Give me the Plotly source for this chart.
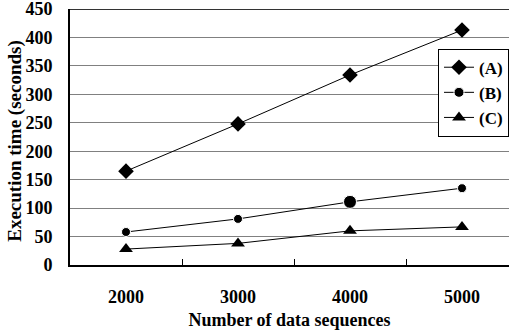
import plotly.graph_objects as go

categories = ["2000", "3000", "4000", "5000"]
series_a = [165, 248, 334, 413]
series_b = [58, 81, 111, 135]
series_c = [28, 38, 60, 67]
names = ["(A)", "(B)", "(C)"]
y_ticks = [0, 50, 100, 150, 200, 250, 300, 350, 400, 450]
y_title = "Execution time (seconds)"
x_title = "Number of data sequences"

xs = list(range(len(categories)))
fam = "Liberation Serif, Times New Roman, serif"
bold = dict(family=fam, size=18, color="black", weight="bold")
leg_font = dict(family=fam, size=17, color="black", weight="bold")
ytitle_font = dict(family=fam, size=19, color="black", weight="bold")

fig = go.Figure()
fig.add_trace(go.Scatter(x=xs, y=series_a, name="<b>%s</b>" % names[0], mode="lines+markers",
                         legendgroup="a",
                         line=dict(color="black", width=1),
                         marker=dict(symbol="diamond", size=12, color="black", opacity=1)))
fig.add_trace(go.Scatter(x=xs, y=series_b, name="<b>%s</b>" % names[1], mode="lines+markers",
                         legendgroup="b",
                         line=dict(color="black", width=1),
                         marker=dict(symbol="circle", size=[9, 9, 13, 9], color="black", opacity=1)))
fig.add_trace(go.Scatter(x=xs, y=series_c, name="<b>%s</b>" % names[2], mode="lines+markers",
                         legendgroup="c",
                         line=dict(color="black", width=1),
                         marker=dict(symbol="triangle-up", size=12, color="black", opacity=1)))

fig.update_layout(
    width=509, height=333,
    margin=dict(l=70, r=0, t=9, b=68),
    plot_bgcolor="white", paper_bgcolor="white",
    font=bold,
    showlegend=True,
    legend=dict(x=1, y=0.845, xanchor="right", yanchor="top",
                bordercolor="black", borderwidth=1, bgcolor="white",
                font=leg_font, itemwidth=30, tracegroupgap=0),
    xaxis=dict(range=[-0.5, -0.5 + 439 / 112], tickvals=xs,
               ticktext=["<b>%s</b>" % c for c in categories],
               ticks="", showgrid=False, zeroline=False, automargin=False,
               showline=True, linecolor="black", linewidth=2,
               tickfont=bold, ticklabelstandoff=14, ticklabeloverflow="allow",
               title=dict(text="<b>%s</b>" % x_title, font=bold, standoff=8),
               minor=dict(tickvals=[0.5, 1.5, 2.5], ticks="inside", ticklen=6,
                          tickcolor="black", tickwidth=1, showgrid=False)),
    yaxis=dict(range=[0, 450], tickvals=y_ticks,
               ticktext=["<b>%d</b>" % v for v in y_ticks],
               ticks="", showgrid=True,
               gridcolor="#808080", gridwidth=1, zeroline=False, automargin=False,
               showline=True, linecolor="black", linewidth=2,
               tickfont=bold, ticklabelstandoff=12, ticklabeloverflow="allow"),
)
fig.add_annotation(text="<b>%s</b>" % y_title, textangle=-90, font=ytitle_font,
                   xref="paper", yref="paper", x=-0.126, y=0.484,
                   xanchor="center", yanchor="middle", showarrow=False)
fig.add_shape(type="line", xref="paper", yref="y", x0=0, x1=1, y0=450, y1=450,
              line=dict(color="#333333", width=2))
fig.write_html("out.html", config={"displayModeBar": False},
               post_script="document.body.style.margin='0';")
